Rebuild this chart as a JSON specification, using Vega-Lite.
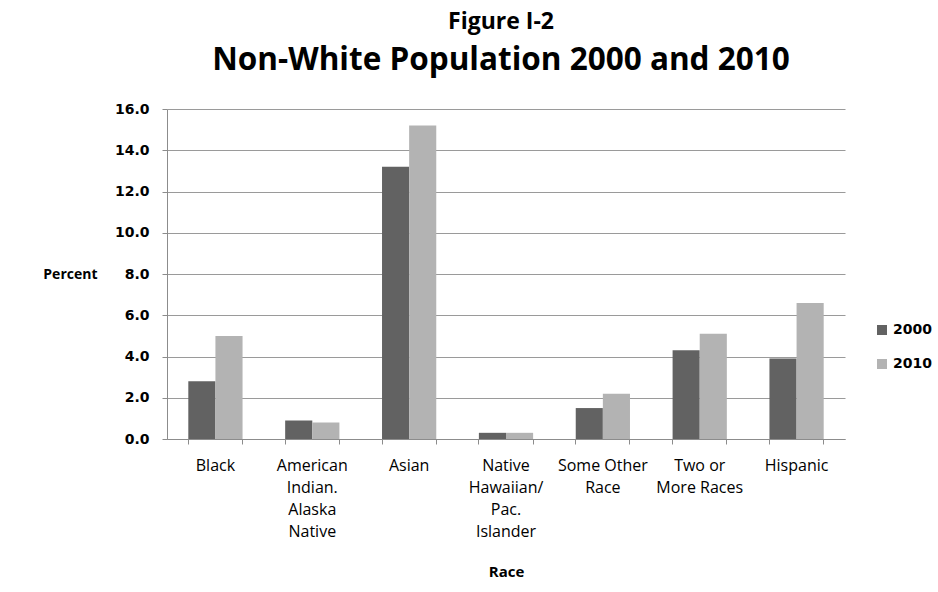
{
  "$schema": "https://vega.github.io/schema/vega-lite/v6.json",
  "width": 678,
  "height": 330,
  "autosize": "none",
  "padding": {"left": 167, "top": 109, "right": 93, "bottom": 153},
  "background": "white",
  "title": {
    "text": "Figure I-2",
    "subtitle": "Non-White Population 2000 and 2010",
    "font": "Open Sans",
    "fontWeight": "bold",
    "fontSize": 23,
    "color": "#000000",
    "subtitleFont": "Open Sans",
    "subtitleFontWeight": "bold",
    "subtitleFontSize": 31.5,
    "subtitleColor": "#000000",
    "subtitlePadding": 11,
    "anchor": "middle",
    "frame": "group",
    "dx": -5,
    "offset": 26
  },
  "data": {
    "values": [
      {"race": "Black", "year": "2000", "percent": 2.8},
      {"race": "Black", "year": "2010", "percent": 5.0},
      {"race": "American Indian. Alaska Native", "year": "2000", "percent": 0.9},
      {"race": "American Indian. Alaska Native", "year": "2010", "percent": 0.8},
      {"race": "Asian", "year": "2000", "percent": 13.2},
      {"race": "Asian", "year": "2010", "percent": 15.2},
      {"race": "Native Hawaiian/ Pac. Islander", "year": "2000", "percent": 0.3},
      {"race": "Native Hawaiian/ Pac. Islander", "year": "2010", "percent": 0.3},
      {"race": "Some Other Race", "year": "2000", "percent": 1.5},
      {"race": "Some Other Race", "year": "2010", "percent": 2.2},
      {"race": "Two or More Races", "year": "2000", "percent": 4.3},
      {"race": "Two or More Races", "year": "2010", "percent": 5.1},
      {"race": "Hispanic", "year": "2000", "percent": 3.9},
      {"race": "Hispanic", "year": "2010", "percent": 6.6}
    ]
  },
  "config": {
    "view": {"stroke": null},
    "axis": {"domainColor": "#8c8c8c", "tickColor": "#8c8c8c"}
  },
  "layer": [
    {
      "mark": {"type": "bar"},
      "encoding": {
        "x": {
          "field": "race",
          "type": "nominal",
          "sort": null,
          "scale": {"paddingInner": 0.44, "paddingOuter": 0.22},
          "axis": {
            "orient": "bottom",
            "title": "Race",
            "titleFont": "Open Sans",
            "titleFontWeight": "bold",
            "titleFontSize": 15,
            "titleColor": "#000000",
            "titleY": 132,
            "titleBaseline": "middle",
            "labelAngle": 0,
            "labelFont": "Open Sans",
            "labelFontSize": 16,
            "labelColor": "#000000",
            "labelBaseline": "top",
            "labelLineHeight": 22,
            "labelPadding": 18,
            "labelLimit": 200,
            "ticks": false,
            "domain": true,
            "domainColor": "#8c8c8c",
            "labelExpr": "datum.label == 'American Indian. Alaska Native' ? ['American', 'Indian.', 'Alaska', 'Native'] : datum.label == 'Native Hawaiian/ Pac. Islander' ? ['Native', 'Hawaiian/', 'Pac.', 'Islander'] : datum.label == 'Some Other Race' ? ['Some Other', 'Race'] : datum.label == 'Two or More Races' ? ['Two or', 'More Races'] : datum.label"
          }
        },
        "xOffset": {"field": "year", "type": "nominal", "scale": {"paddingInner": 0, "paddingOuter": 0}},
        "y": {
          "field": "percent",
          "type": "quantitative",
          "scale": {"domain": [0, 16], "nice": false},
          "axis": {
            "title": "Percent",
            "titleAngle": 0,
            "titleAlign": "right",
            "titleBaseline": "middle",
            "titleX": -70,
            "titleY": 165,
            "titleFont": "Open Sans",
            "titleFontWeight": "bold",
            "titleFontSize": 14,
            "titleColor": "#000000",
            "values": [0, 2, 4, 6, 8, 10, 12, 14, 16],
            "format": ".1f",
            "labelFont": "DejaVu Sans",
            "labelFontWeight": "bold",
            "labelFontSize": 14,
            "labelColor": "#000000",
            "labelPadding": 13,
            "tickSize": 5,
            "tickColor": "#8c8c8c",
            "domainColor": "#8c8c8c",
            "grid": true,
            "gridColor": "#9a9a9a",
            "gridWidth": 1.2
          }
        },
        "color": {
          "field": "year",
          "type": "nominal",
          "scale": {"domain": ["2000", "2010"], "range": ["#626262", "#b3b3b3"]},
          "legend": {
            "title": null,
            "orient": "none",
            "legendX": 708,
            "legendY": 214,
            "symbolType": "square",
            "symbolSize": 100,
            "symbolStrokeWidth": 0,
            "labelFont": "DejaVu Sans",
            "labelFontWeight": "bold",
            "labelFontSize": 14,
            "labelColor": "#000000",
            "labelOffset": 4,
            "rowPadding": 20
          }
        }
      }
    },
    {
      "mark": {"type": "bar", "opacity": 0},
      "encoding": {
        "x": {
          "field": "race",
          "type": "nominal",
          "sort": null,
          "axis": {"orient": "bottom", "title": null, "labels": false, "domain": false, "ticks": true, "tickSize": 5, "tickColor": "#8c8c8c", "bandPosition": 0}
        },
        "y": {"field": "percent", "type": "quantitative", "stack": null}
      }
    },
    {
      "mark": {"type": "bar", "opacity": 0},
      "encoding": {
        "x": {
          "field": "race",
          "type": "nominal",
          "sort": null,
          "axis": {"orient": "bottom", "title": null, "labels": false, "domain": false, "ticks": true, "tickSize": 5, "tickColor": "#8c8c8c", "bandPosition": 1}
        },
        "y": {"field": "percent", "type": "quantitative", "stack": null}
      }
    }
  ],
  "resolve": {"axis": {"x": "independent"}}
}
